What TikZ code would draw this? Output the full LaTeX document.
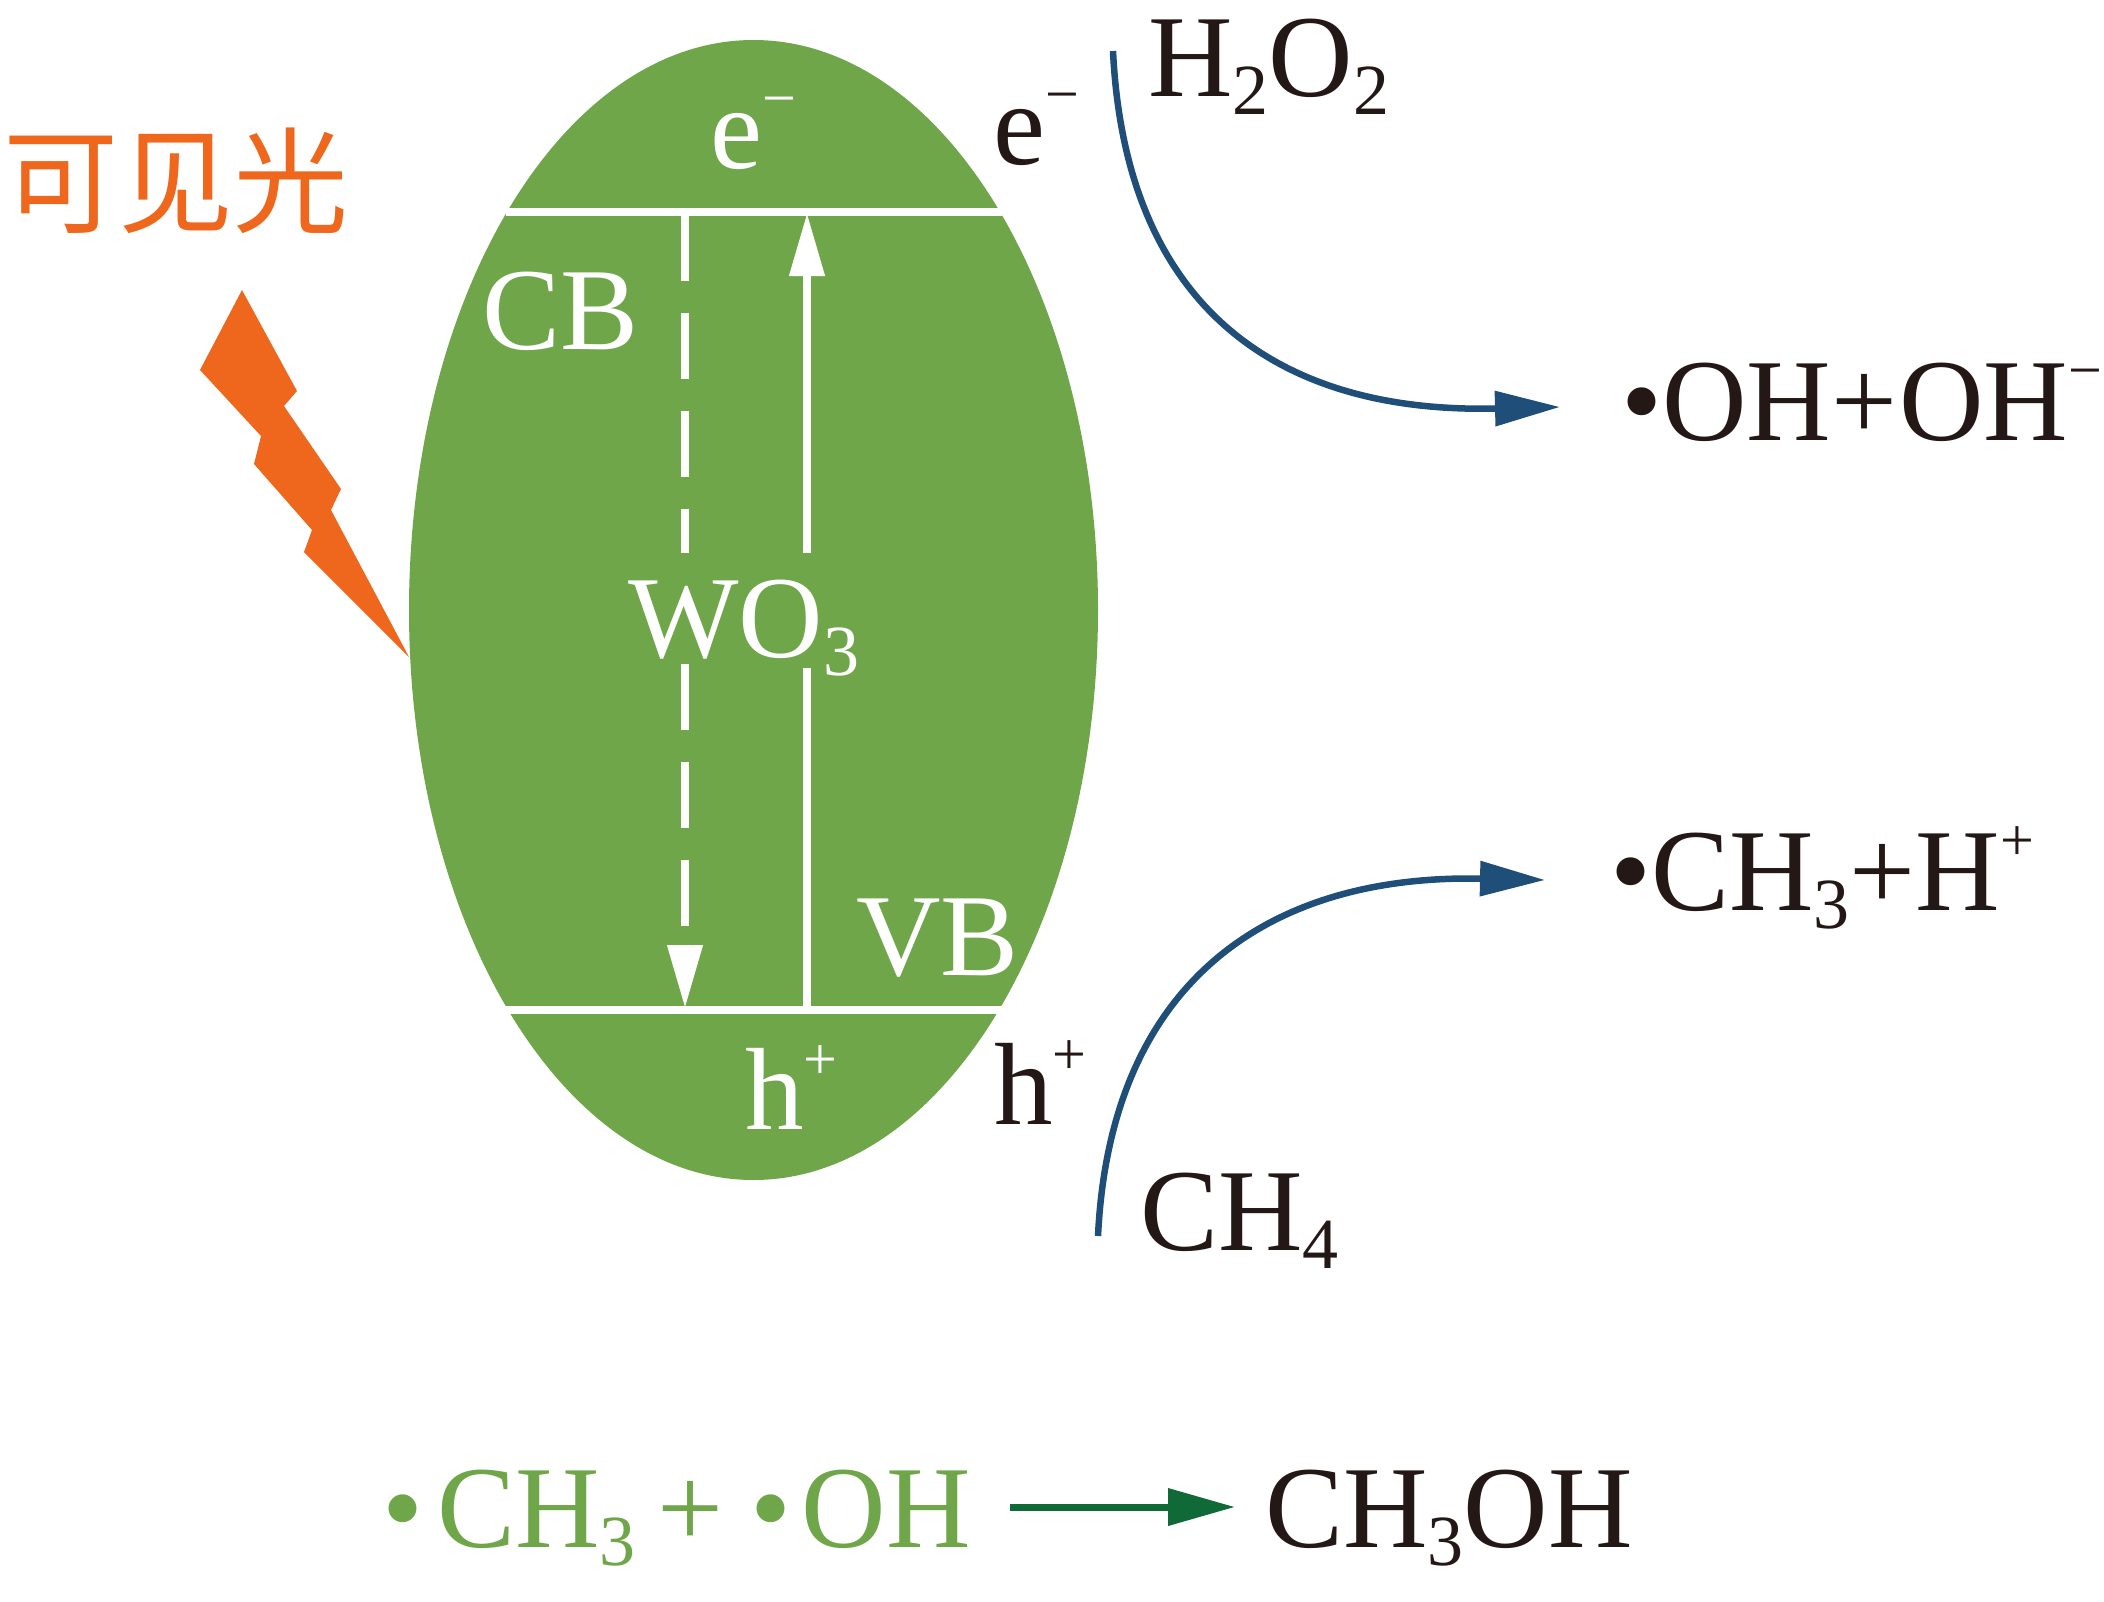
\documentclass[tikz,border=0pt]{standalone}
\usepackage{fontspec}
\setmainfont{Liberation Serif}
\newfontfamily\cjkfont{Noto Sans CJK SC}
\usetikzlibrary{arrows.meta, shapes.geometric}
\definecolor{leafgreen}{HTML}{70A64A}
\definecolor{boltorange}{HTML}{EE671D}
\definecolor{inkblack}{HTML}{231815}
\definecolor{pathblue}{HTML}{1F4E79}
\definecolor{darkgreen}{HTML}{0F6A37}
\newcommand{\lowtxt}[1]{\raisebox{-18pt}{\fontsize{72}{72}\selectfont #1}}
\newcommand{\uptxt}[1]{\raisebox{50pt}{\fontsize{60}{60}\selectfont #1}}

\begin{document}
\begin{tikzpicture}[
          x=1pt, y=-1pt,
          every node/.style={inner sep=0pt, anchor=base west, text=inkblack, font=\fontsize{117}{117}\selectfont},
          onleaf/.style={text=white},
          bandline/.style={draw=white, line width=7.5pt},
          whitearrow/.style={draw=white, line width=7.5pt, -{Triangle[length=63pt, width=34pt, fill=white]}},
          bluearrow/.style={draw=pathblue, line width=6.5pt, -{Triangle[length=65pt, width=34pt, fill=pathblue]}}
        ]
        \useasboundingbox (0,0) rectangle (2104,1601);
        \node (catalyst) [ellipse, anchor=center, fill=leafgreen, minimum width=689pt, minimum height=1140pt] at (753.5,610) {};
        % band edges
        \coordinate (cbleft) at (506,212);
        \coordinate (cbright) at (1002,212);
        \coordinate (vbleft) at (506,1010);
        \coordinate (vbright) at (1002,1010);
        \draw [bandline] (cbleft) -- (cbright);
        \draw [bandline] (vbleft) -- (vbright);
        % electron falling, broken by the WO3 label
        \coordinate (downa) at (685,215);
        \coordinate (downb) at (685,553);
        \coordinate (downc) at (685,664);
        \coordinate (downd) at (685,1008);
        \draw [bandline, dash pattern=on 66pt off 32pt] (downa) -- (downb);
        \draw [whitearrow, dash pattern=on 66pt off 32pt] (downc) -- (downd);
        % excitation going up
        \coordinate (upa) at (807,1008);
        \coordinate (upb) at (807,668);
        \coordinate (upc) at (807,553);
        \coordinate (upd) at (807,213);
        \draw [bandline] (upa) -- (upb);
        \draw [whitearrow] (upc) -- (upd);
        % labels on the ellipse
        \node (ein) [onleaf] at (710,168) {e\uptxt{−}};
        \node (cb) [onleaf] at (482,349) {CB};
        \node (wo) [onleaf] at (628,657) {WO\lowtxt{3}};
        \node (vb) [onleaf] at (856,975) {VB};
        \node (hin) [onleaf] at (745,1129) {h\uptxt{+}};
        % the light
        \node (light) [text=boltorange, font=\cjkfont\fontsize{115}{115}\selectfont] at (3,224) {可见光};
        \fill [boltorange] (242,290) -- (297,391) -- (284,406) -- (341,489) -- (331,510) -- (409,657)
          -- (304,552) -- (312,530) -- (254,464) -- (261,436) -- (200,370) -- cycle;
        % outside, upper
        \node (eout) at (993,164) {e\uptxt{−}};
        \node (peroxide) at (1148,96) {H\lowtxt{2}O\lowtxt{2}};
        \node (hydroxyl) at (1621,440) {•OH+\hspace{2pt}OH\uptxt{−}};
        \coordinate (peroxstart) at (1113,51);
        \coordinate (peroxend) at (1560,407);
        \draw [bluearrow] (peroxstart) .. controls (1125,300) and (1270,414) .. (peroxend);
        % outside, lower
        \node (hout) at (994,1124) {h\uptxt{+}};
        \node (methane) at (1140,1250) {CH\lowtxt{4}};
        \node (methyl) at (1610,910) {•CH\lowtxt{3}+H\uptxt{+}};
        \coordinate (methstart) at (1098,1236);
        \coordinate (methend) at (1545,880);
        \draw [bluearrow] (methstart) .. controls (1110,985) and (1265,874) .. (methend);
        % bottom reaction
        \node (radicals) [text=leafgreen] at (382,1547) {•\hspace{14pt}CH\lowtxt{3}\hspace{22pt}+\hspace{27pt}•\hspace{10pt}OH};
        \node (methanol) at (1265,1547) {CH\lowtxt{3}OH};
        \coordinate (sumstart) at (1010,1507);
        \coordinate (sumend) at (1235,1507);
        \draw [draw=darkgreen, line width=7pt, -{Triangle[length=67pt, width=36pt, fill=darkgreen]}] (sumstart) -- (sumend);
\end{tikzpicture}
\end{document}
